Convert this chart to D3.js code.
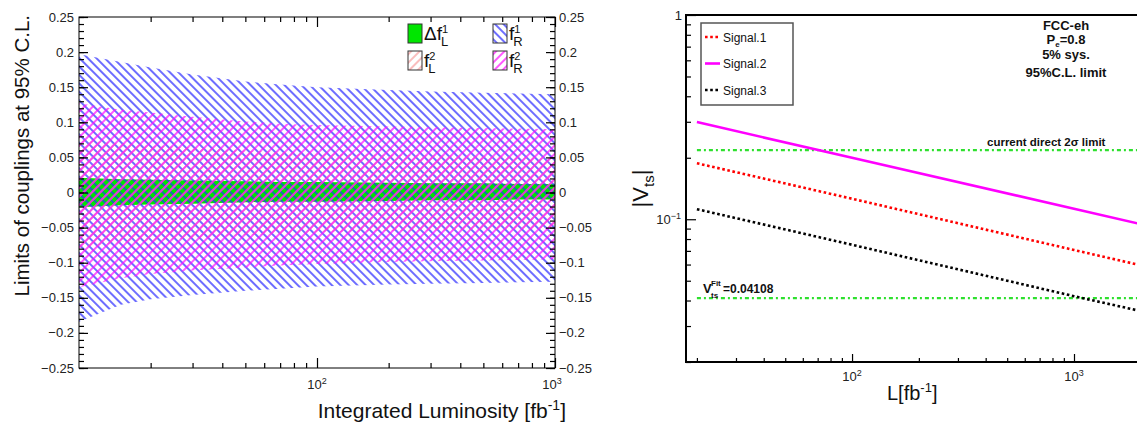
<!DOCTYPE html>
<html><head><meta charset="utf-8">
<script src="https://cdn.jsdelivr.net/npm/d3@7"></script>
<style>
html,body{margin:0;padding:0;background:#fff;}
svg{display:block;font-family:"Liberation Sans",Arial,Helvetica,sans-serif;}
</style></head>
<body>
<svg id="c" width="1137" height="430"></svg>
<script>
// ---------------- DATA (left panel) ----------------
const lumi = [10, 15, 20, 30, 50, 70, 100, 200, 300, 500, 700, 1000];
const dfL1Up = [0.021, 0.019, 0.018, 0.017, 0.016, 0.015, 0.015, 0.014, 0.013, 0.013, 0.012, 0.012];
const dfL1Lo = [-0.021, -0.018, -0.017, -0.016, -0.014, -0.013, -0.013, -0.012, -0.011, -0.011, -0.010, -0.010];
const fR1Up = [0.197, 0.186, 0.178, 0.168, 0.158, 0.154, 0.150, 0.146, 0.144, 0.142, 0.141, 0.140];
const fR1Lo = [-0.184, -0.160, -0.152, -0.146, -0.140, -0.137, -0.134, -0.131, -0.130, -0.129, -0.128, -0.127];
const fL2Up = [0.075, 0.070, 0.067, 0.064, 0.060, 0.058, 0.056, 0.054, 0.053, 0.052, 0.051, 0.050];
const fL2Lo = [-0.078, -0.072, -0.069, -0.065, -0.061, -0.059, -0.057, -0.055, -0.054, -0.053, -0.052, -0.051];
const fR2Up = [0.127, 0.118, 0.114, 0.108, 0.101, 0.098, 0.096, 0.094, 0.093, 0.092, 0.091, 0.090];
const fR2Lo = [-0.135, -0.122, -0.116, -0.111, -0.107, -0.104, -0.102, -0.099, -0.098, -0.097, -0.096, -0.095];
const leftYTicks = [0.25, 0.2, 0.15, 0.1, 0.05, 0, -0.05, -0.1, -0.15, -0.2, -0.25];
const leftYLabels = ["0.25", "0.2", "0.15", "0.1", "0.05", "0", "\u22120.05", "\u22120.1", "\u22120.15", "\u22120.2", "\u22120.25"];
const leftXMajor = [100, 1000];
const leftXLabels = ["2", "3"]; // exponents of 10

// ---------------- DATA (right panel) ----------------
const lumiR = [20, 100, 1000, 2000];
const signal1 = [0.188, 0.126, 0.0707, 0.0595];
const signal2 = [0.299, 0.200, 0.1125, 0.0946];
const signal3 = [0.112, 0.075, 0.0420, 0.0355];
const directLimit = 0.218;
const fitValue = 0.04108;
const hLineRange = [20, 2200];
const seriesNames = ["Signal.1", "Signal.2", "Signal.3"];
const rightXMajor = [100, 1000];
const rightYMajor = [0.1, 1];

const svg = d3.select("#c");

// ================= LEFT PANEL =================
const L = {x0: 79, x1: 555, y0: 17, y1: 368};
const xl = d3.scaleLog().domain([10, 1000]).range([L.x0, L.x1]);
const yl = d3.scaleLinear().domain([-0.25, 0.25]).range([L.y1, L.y0]);

const defs = svg.append("defs");
function hatch(id, color, angle, spacing, w) {
  const p = defs.append("pattern").attr("id", id).attr("patternUnits", "userSpaceOnUse")
    .attr("width", spacing).attr("height", spacing).attr("patternTransform", `rotate(${angle})`);
  p.append("line").attr("x1", spacing/2).attr("y1", -1).attr("x2", spacing/2).attr("y2", spacing+1)
    .attr("stroke", color).attr("stroke-width", w);
}
hatch("hBlue", "#2f2fff", -45, 6, 1.4);
hatch("hMag", "#ff10ff", 45, 6, 1.4);
hatch("hSal", "#f79090", 45, 6, 1.2);
defs.append("clipPath").attr("id", "clipL").append("rect")
  .attr("x", L.x0).attr("y", L.y0).attr("width", L.x1 - L.x0).attr("height", L.y1 - L.y0);

const band = (up, lo) => d3.area().x((d, i) => xl(lumi[i])).y0((d, i) => yl(lo[i])).y1((d, i) => yl(up[i]))(lumi);
const gBands = svg.append("g").attr("clip-path", "url(#clipL)");
gBands.append("path").attr("d", band(dfL1Up, dfL1Lo)).attr("fill", "#00e600");
gBands.append("path").attr("d", band(fR1Up, fR1Lo)).attr("fill", "url(#hBlue)");
gBands.append("path").attr("d", band(fL2Up, fL2Lo)).attr("fill", "url(#hSal)");
gBands.append("path").attr("d", band(fR2Up, fR2Lo)).attr("fill", "url(#hMag)");

svg.append("rect").attr("x", L.x0).attr("y", L.y0).attr("width", L.x1 - L.x0).attr("height", L.y1 - L.y0)
  .attr("fill", "none").attr("stroke", "#000").attr("stroke-width", 1);

const xMinorL = [];
for (let dec of [10, 100]) for (let k = 2; k <= 9; k++) xMinorL.push(dec * k);
function noDomain(g) { g.select(".domain").remove(); }
svg.append("g").attr("transform", `translate(0,${L.y1})`)
  .call(d3.axisBottom(xl).tickValues(xMinorL).tickSize(-5).tickFormat("")).call(noDomain);
svg.append("g").attr("transform", `translate(0,${L.y1})`)
  .call(d3.axisBottom(xl).tickValues(leftXMajor).tickSize(-10).tickFormat("")).call(noDomain);
svg.append("g").attr("transform", `translate(0,${L.y0})`)
  .call(d3.axisTop(xl).tickValues(xMinorL).tickSize(-5).tickFormat("")).call(noDomain);
svg.append("g").attr("transform", `translate(0,${L.y0})`)
  .call(d3.axisTop(xl).tickValues(leftXMajor).tickSize(-10).tickFormat("")).call(noDomain);
leftXMajor.forEach((v, i) => {
  const t = svg.append("text").attr("x", xl(v) - (v === 1000 ? 3 : 0)).attr("y", L.y1 + 21).attr("text-anchor", "middle")
    .attr("font-size", 13).attr("fill", "#222");
  t.append("tspan").text("10");
  t.append("tspan").attr("dy", -5).attr("font-size", 9).text(leftXLabels[i]);
});
const yMinorL = d3.range(-25, 26).map(d => d / 100);
svg.append("g").attr("transform", `translate(${L.x0},0)`)
  .call(d3.axisLeft(yl).tickValues(yMinorL).tickSize(-5).tickFormat("")).call(noDomain);
svg.append("g").attr("transform", `translate(${L.x0},0)`)
  .call(d3.axisLeft(yl).tickValues(leftYTicks).tickSize(-9).tickFormat("")).call(noDomain);
svg.append("g").attr("transform", `translate(${L.x1},0)`)
  .call(d3.axisRight(yl).tickValues(yMinorL).tickSize(-5).tickFormat("")).call(noDomain);
svg.append("g").attr("transform", `translate(${L.x1},0)`)
  .call(d3.axisRight(yl).tickValues(leftYTicks).tickSize(-9).tickFormat("")).call(noDomain);
svg.selectAll(".tick line").attr("stroke", "#000");
leftYTicks.forEach((v, i) => {
  svg.append("text").attr("x", L.x0 - 5).attr("y", yl(v) + 4.5).attr("text-anchor", "end")
    .attr("font-size", 13).attr("fill", "#222").text(leftYLabels[i]);
  svg.append("text").attr("x", L.x1 + 4).attr("y", yl(v) + 4.5).attr("text-anchor", "start")
    .attr("font-size", 13).attr("fill", "#222").text(leftYLabels[i]);
});
svg.append("text").attr("transform", `translate(29,${L.y0 - 2}) rotate(-90)`).attr("text-anchor", "end")
  .attr("font-size", 20.5).attr("fill", "#111").text("Limits of couplings at 95% C.L.");
{
  const t = svg.append("text").attr("x", 566).attr("y", 418).attr("text-anchor", "end")
    .attr("font-size", 21).attr("fill", "#111");
  t.append("tspan").text("Integrated Luminosity [fb");
  t.append("tspan").attr("dy", -8).attr("font-size", 14).text("-1");
  t.append("tspan").attr("dy", 8).text("]");
}
function legEntry(x, y, fill, main, sup, sub) {
  svg.append("rect").attr("x", x).attr("y", y).attr("width", 14).attr("height", 19)
    .attr("fill", fill).attr("stroke", "#333").attr("stroke-width", 1);
  const t = svg.append("text").attr("x", x + 16).attr("y", y + 16).attr("font-size", 19).attr("fill", "#111").text(main);
  const w = t.node().getComputedTextLength();
  svg.append("text").attr("x", x + 16 + w).attr("y", y + 9).attr("font-size", 11).attr("fill", "#111").text(sup);
  svg.append("text").attr("x", x + 16 + w - 1).attr("y", y + 22).attr("font-size", 13).attr("fill", "#111").text(sub);
}
legEntry(408, 24, "#00e600", "\u0394f", "1", "L");
legEntry(493, 24, "url(#hBlue)", "f", "1", "R");
legEntry(408, 51, "url(#hSal)", "f", "2", "L");
legEntry(493, 51, "url(#hMag)", "f", "2", "R");

// ================= RIGHT PANEL =================
const R = {x0: 686, x1: 1150, y0: 15, y1: 362};
const xr = d3.scaleLog().domain([17.86, 2200]).range([R.x0, R.x1]);
const yr = d3.scaleLog().domain([0.02, 1]).range([R.y1, R.y0]);
defs.append("clipPath").attr("id", "clipR").append("rect")
  .attr("x", R.x0).attr("y", R.y0).attr("width", R.x1 - R.x0).attr("height", R.y1 - R.y0);

const gR = svg.append("g").attr("clip-path", "url(#clipR)");
[directLimit, fitValue].forEach(v => {
  gR.append("path").attr("d", d3.line().x(d => xr(d)).y(() => yr(v))(hLineRange))
    .attr("stroke", "#2ee02e").attr("stroke-width", 2.2).attr("fill", "none")
    .attr("stroke-dasharray", "4,3,2,3");
});
const lineGen = vals => d3.line().x((d, i) => xr(lumiR[i])).y((d, i) => yr(vals[i]))(lumiR);
const styles = [
  {v: signal1, c: "#ff0000", dash: "2.6,2.6"},
  {v: signal2, c: "#ff00ff", dash: null},
  {v: signal3, c: "#000000", dash: "2.6,2.6"}
];
styles.forEach(s => {
  gR.append("path").attr("d", lineGen(s.v)).attr("fill", "none").attr("stroke", s.c)
    .attr("stroke-width", 2.6).attr("stroke-dasharray", s.dash);
});

svg.append("path").attr("d", `M${R.x1},${R.y0}H${R.x0}V${R.y1}H${R.x1}`).attr("fill", "none")
  .attr("stroke", "#000").attr("stroke-width", 2);
const xMinorR = [20, 30, 40, 50, 60, 70, 80, 90, 200, 300, 400, 500, 600, 700, 800, 900, 2000];
svg.append("g").attr("transform", `translate(0,${R.y1})`)
  .call(d3.axisBottom(xr).tickValues(xMinorR).tickSize(-4).tickFormat("")).call(noDomain);
svg.append("g").attr("transform", `translate(0,${R.y1})`)
  .call(d3.axisBottom(xr).tickValues(rightXMajor).tickSize(-8).tickFormat("")).call(noDomain);
const yMinorR = [0.02, 0.03, 0.04, 0.05, 0.06, 0.07, 0.08, 0.09, 0.2, 0.3, 0.4, 0.5, 0.6, 0.7, 0.8, 0.9];
svg.append("g").attr("transform", `translate(${R.x0},0)`)
  .call(d3.axisLeft(yr).tickValues(yMinorR).tickSize(-5).tickFormat("")).call(noDomain);
svg.append("g").attr("transform", `translate(${R.x0},0)`)
  .call(d3.axisLeft(yr).tickValues(rightYMajor).tickSize(-10).tickFormat("")).call(noDomain);
svg.selectAll(".tick line").attr("stroke", "#000").attr("stroke-width", 1.2);
rightXMajor.forEach(v => {
  const t = svg.append("text").attr("x", xr(v)).attr("y", R.y1 + 19).attr("text-anchor", "middle")
    .attr("font-size", 13).attr("fill", "#222");
  t.append("tspan").text("10");
  t.append("tspan").attr("dy", -5).attr("font-size", 9).text(v === 100 ? "2" : "3");
});
svg.append("text").attr("x", R.x0 - 4).attr("y", yr(1) + 5).attr("text-anchor", "end")
  .attr("font-size", 13).attr("fill", "#222").text("1");
{
  const t = svg.append("text").attr("x", R.x0 - 5).attr("y", yr(0.1) + 5).attr("text-anchor", "end")
    .attr("font-size", 13).attr("fill", "#222");
  t.append("tspan").text("10");
  t.append("tspan").attr("dy", -5).attr("font-size", 9).text("\u22121");
}
{
  const t = svg.append("text").attr("transform", `translate(648,${(R.y0 + R.y1) / 2}) rotate(-90)`).attr("text-anchor", "middle")
    .attr("font-size", 22).attr("fill", "#111");
  t.append("tspan").text("|V");
  t.append("tspan").attr("dy", 6).attr("font-size", 15).text("ts");
  t.append("tspan").attr("dy", -6).text("|");
}
{
  const t = svg.append("text").attr("x", 887).attr("y", 400).attr("font-size", 20).attr("fill", "#111");
  t.append("tspan").text("L[fb");
  t.append("tspan").attr("dy", -8).attr("font-size", 13).text("-1");
  t.append("tspan").attr("dy", 8).text("]");
}
svg.append("rect").attr("x", 701).attr("y", 23).attr("width", 92).attr("height", 82)
  .attr("fill", "#fff").attr("stroke", "#555").attr("stroke-width", 1.5);
styles.forEach((s, i) => {
  const yy = 37 + i * 26.5;
  svg.append("line").attr("x1", 705).attr("x2", 720).attr("y1", yy).attr("y2", yy)
    .attr("stroke", s.c).attr("stroke-width", 2.6).attr("stroke-dasharray", s.dash);
  svg.append("text").attr("x", 723).attr("y", yy + 4.5).attr("font-size", 12).attr("fill", "#111").text(seriesNames[i]);
});
const ann = svg.append("g").attr("font-weight", "bold").attr("font-size", 13).attr("fill", "#111").attr("text-anchor", "middle");
ann.append("text").attr("x", 1066).attr("y", 30).text("FCC-eh");
{
  const t = ann.append("text").attr("x", 1066).attr("y", 44);
  t.append("tspan").text("P");
  t.append("tspan").attr("dy", 3).attr("font-size", 8).text("e");
  t.append("tspan").attr("dy", -3).text("=0.8");
}
ann.append("text").attr("x", 1066).attr("y", 59).text("5% sys.");
ann.append("text").attr("x", 1066).attr("y", 77).text("95%C.L. limit");
svg.append("text").attr("x", 987).attr("y", 146).attr("font-weight", "bold").attr("font-size", 11.5)
  .attr("fill", "#111").text("current direct 2\u03c3 limit");
{
  const g = svg.append("g").attr("font-weight", "bold").attr("fill", "#111");
  g.append("text").attr("x", 703).attr("y", 293).attr("font-size", 13).text("V");
  g.append("text").attr("x", 711).attr("y", 286).attr("font-size", 8).text("Fit");
  g.append("text").attr("x", 711).attr("y", 298).attr("font-size", 8).text("ts");
  g.append("text").attr("x", 723).attr("y", 293).attr("font-size", 12).text("=0.04108");
}
</script>
</body></html>
